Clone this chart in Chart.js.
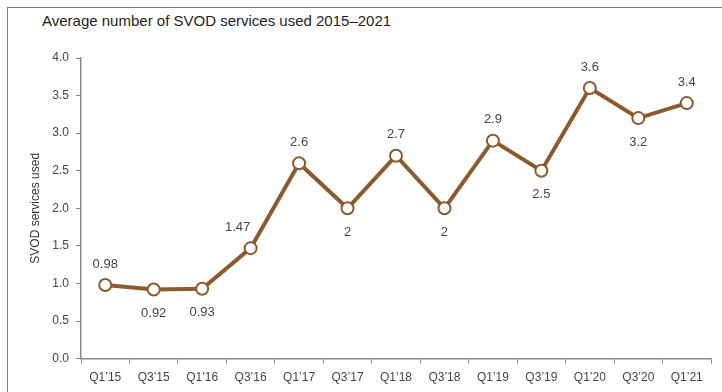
<!DOCTYPE html>
<html>
<head>
<meta charset="utf-8">
<script src="https://cdn.jsdelivr.net/npm/chart.js@4"></script>
<style>
  html, body { margin: 0; padding: 0; background: #fff; }
  #wrap { position: relative; width: 722px; height: 392px; overflow: hidden; font-family: "Liberation Sans", Arial, sans-serif; }
  #frame { position: absolute; left: 7px; top: 7px; right: -2px; bottom: -2px; border-left: 1px solid #7a7a7a; border-top: 1px solid #7a7a7a; }
  #title { position: absolute; left: 42px; top: 12px; font-size: 15px; color: #1e1e1e; white-space: nowrap; }
  #c { position: absolute; left: 0; top: 0; }
</style>
</head>
<body>
<div id="wrap">
  <div id="frame"></div>
  <div id="title">Average number of SVOD services used 2015–2021</div>
  <canvas id="c" width="722" height="392"></canvas>
</div>
<script>
const categories = ["Q1’15","Q3’15","Q1’16","Q3’16","Q1’17","Q3’17","Q1’18","Q3’18","Q1’19","Q3’19","Q1’20","Q3’20","Q1’21"];
const servicesUsed = [0.98, 0.92, 0.93, 1.47, 2.6, 2, 2.7, 2, 2.9, 2.5, 3.6, 3.2, 3.4];
const yTicks = [0, 0.5, 1, 1.5, 2, 2.5, 3, 3.5, 4];

const labelBelow = [false, true, true, false, false, true, false, true, false, true, false, true, false];
const labelShiftX = [0, 0, 0, -13, 0, 0, 0, 0, 0, 0, 0, 0, 0];
const brown = '#8b5a2f';
const textColor = '#444444';
const axisColor = '#8a8a8a';
const fontFamily = '"Liberation Sans", Arial, sans-serif';

const valueLabels = {
  id: 'valueLabels',
  afterDatasetsDraw(chart) {
    const ctx = chart.ctx;
    const meta = chart.getDatasetMeta(0);
    ctx.save();
    ctx.font = '13px ' + fontFamily;
    ctx.fillStyle = textColor;
    ctx.textAlign = 'center';
    ctx.textBaseline = 'middle';
    meta.data.forEach((pt, i) => {
      const v = chart.data.datasets[0].data[i];
      const dy = labelBelow[i] ? 24 : -21;
      ctx.fillText(String(v), pt.x + labelShiftX[i], pt.y + dy);
    });
    ctx.restore();
  }
};

new Chart(document.getElementById('c'), {
  type: 'line',
  data: {
    labels: categories,
    datasets: [{
      data: servicesUsed,
      borderColor: brown,
      borderWidth: 4,
      pointRadius: 6,
      pointHoverRadius: 6,
      pointBorderWidth: 2,
      pointBorderColor: brown,
      pointBackgroundColor: '#ffffff',
      tension: 0
    }]
  },
  options: {
    responsive: false,
    animation: false,
    events: [],
    layout: { padding: { left: 0, top: 58, right: 11, bottom: 0 } },
    plugins: { legend: { display: false }, tooltip: { enabled: false }, title: { display: false } },
    scales: {
      x: {
        type: 'category',
        offset: true,
        grid: { display: true, offset: true, drawOnChartArea: false, drawTicks: true, tickLength: 5, color: axisColor, lineWidth: 1 },
        border: { display: true, color: axisColor, width: 1.5 },
        ticks: { color: textColor, font: { size: 12, family: fontFamily }, padding: 7, maxRotation: 0, autoSkip: false }
      },
      y: {
        min: 0,
        max: 4,
        afterBuildTicks(scale) { scale.ticks = yTicks.map(v => ({ value: v })); },
        afterFit(scale) { scale.width = 81; },
        grid: { display: true, drawOnChartArea: false, drawTicks: true, tickLength: 5, color: axisColor, lineWidth: 1 },
        border: { display: true, color: axisColor, width: 1.5 },
        ticks: { color: textColor, font: { size: 12, family: fontFamily }, padding: 7, callback: v => Number(v).toFixed(1) },
        title: { display: true, text: 'SVOD services used', color: '#333333', font: { size: 12, family: fontFamily }, padding: { top: 28, bottom: 0 } }
      }
    }
  },
  plugins: [valueLabels]
});
</script>
</body>
</html>
